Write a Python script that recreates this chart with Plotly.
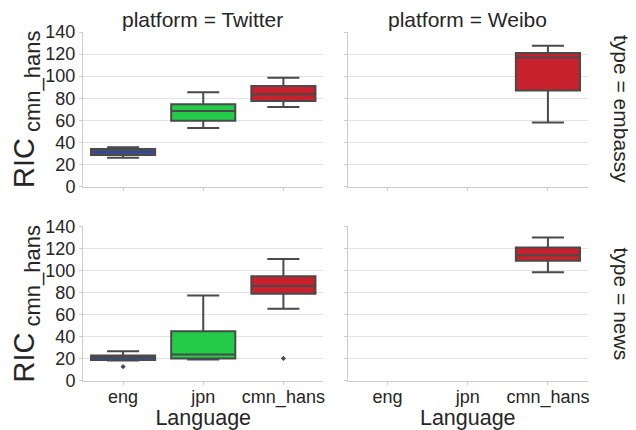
import plotly.graph_objects as go
from plotly.subplots import make_subplots

languages = ["eng", "jpn", "cmn_hans"]
colors = {"eng": "#2a4ec2", "jpn": "#22cc48", "cmn_hans": "#c8202c"}

# Twitter / embassy
tw_emb_lang = ["eng", "jpn", "cmn_hans"]
tw_emb_low = [26, 53, 72]
tw_emb_q1 = [28.5, 59.5, 77.5]
tw_emb_med = [31.5, 68.5, 83.5]
tw_emb_q3 = [34, 74.5, 91]
tw_emb_high = [35.5, 85.5, 98.5]

# Weibo / embassy
wb_emb_lang = ["cmn_hans"]
wb_emb_low = [58]
wb_emb_q1 = [87]
wb_emb_med = [117]
wb_emb_q3 = [121]
wb_emb_high = [127.5]

# Twitter / news
tw_news_lang = ["eng", "jpn", "cmn_hans"]
tw_news_low = [18.5, 19.5, 65.5]
tw_news_q1 = [19, 20.5, 79]
tw_news_med = [21.5, 24, 86]
tw_news_q3 = [23, 45, 95]
tw_news_high = [27, 77.5, 110.5]
tw_news_out_lang = ["eng", "cmn_hans"]
tw_news_out_val = [13, 20.5]

# Weibo / news
wb_news_lang = ["cmn_hans"]
wb_news_low = [98.5]
wb_news_q1 = [109]
wb_news_med = [114]
wb_news_q3 = [121]
wb_news_high = [130]

line_col = "#4a4a4a"
font_family = "Liberation Sans, Arial, sans-serif"

fig = make_subplots(rows=2, cols=2, shared_xaxes=True, shared_yaxes=True,
                    horizontal_spacing=0.0476, vertical_spacing=0.1146)

def add_boxes(langs, low, q1, med, q3, high, row, col):
    for i, lg in enumerate(langs):
        fig.add_trace(go.Box(
            x=[lg], lowerfence=[low[i]], q1=[q1[i]], median=[med[i]],
            q3=[q3[i]], upperfence=[high[i]],
            fillcolor=colors[lg], line=dict(color=line_col, width=2),
            width=0.8, whiskerwidth=0.5, boxpoints=False, showlegend=False,
            hoverinfo="skip"), row=row, col=col)

add_boxes(tw_emb_lang, tw_emb_low, tw_emb_q1, tw_emb_med, tw_emb_q3, tw_emb_high, 1, 1)
add_boxes(wb_emb_lang, wb_emb_low, wb_emb_q1, wb_emb_med, wb_emb_q3, wb_emb_high, 1, 2)
add_boxes(tw_news_lang, tw_news_low, tw_news_q1, tw_news_med, tw_news_q3, tw_news_high, 2, 1)
add_boxes(wb_news_lang, wb_news_low, wb_news_q1, wb_news_med, wb_news_q3, wb_news_high, 2, 2)

fig.add_trace(go.Scatter(x=tw_news_out_lang, y=tw_news_out_val, mode="markers",
                         marker=dict(symbol="diamond", size=4, color=line_col),
                         showlegend=False, hoverinfo="skip"), row=2, col=1)

# page body has an 8px margin, so the figure is 8px smaller and margins shifted
fig.update_layout(
    width=628, height=422, boxmode="overlay",
    margin=dict(l=75, r=48, t=24, b=49),
    plot_bgcolor="white", paper_bgcolor="white",
    font=dict(family=font_family, size=18, color="#262626"),
)

fig.update_xaxes(type="category", categoryorder="array", categoryarray=languages,
                 range=[-0.5, 2.5], showgrid=False, showline=True, linecolor="#cccccc",
                 linewidth=1, ticks="outside", ticklen=3, tickcolor="#cccccc",
                 tickfont=dict(size=18), zeroline=False, automargin=False,
                 ticklabelstandoff=-4)
fig.update_xaxes(showticklabels=False, row=1)
fig.update_xaxes(title_text="Language", title_font=dict(size=21.5), title_standoff=0, row=2)

fig.update_yaxes(range=[0, 140], dtick=20, showgrid=True, gridcolor="#e3e3e3", gridwidth=1.3,
                 showline=True, linecolor="#cccccc", linewidth=1, ticks="outside",
                 ticklen=3, tickcolor="#cccccc", tickfont=dict(size=18), zeroline=False,
                 automargin=False)
fig.update_yaxes(showticklabels=False, col=2)
fig.update_yaxes(title_text="RIC<sub><span style='font-size:22px'> cmn_hans</span></sub>",
                 title_font=dict(size=29), title_standoff=3, col=1)

ann = dict(showarrow=False, xref="paper", yref="paper",
           font=dict(size=21, family=font_family, color="#262626"))
fig.add_annotation(text="platform = Twitter", x=0.2376, y=1.0,
                   xanchor="center", yanchor="bottom", yshift=-1, **ann)
fig.add_annotation(text="platform = Weibo", x=0.7614, y=1.0,
                   xanchor="center", yanchor="bottom", yshift=-1, **ann)
fig.add_annotation(text="type = embassy", x=1.0, xanchor="center", xshift=33,
                   y=0.7794, yanchor="middle", textangle=90, **ann)
fig.add_annotation(text="type = news", x=1.0, xanchor="center", xshift=33,
                   y=0.222, yanchor="middle", textangle=90, **ann)

fig.write_html("out.html")
